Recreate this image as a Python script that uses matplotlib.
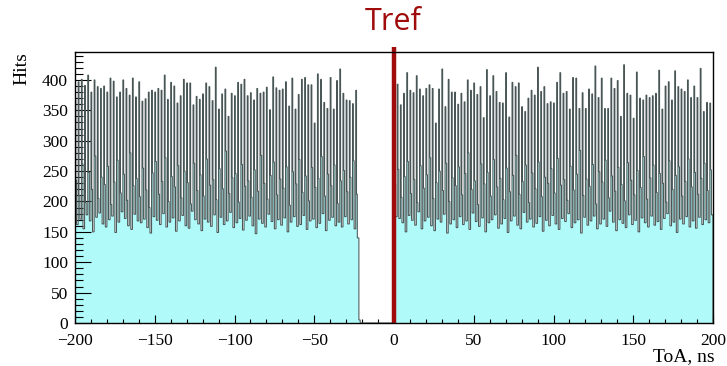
import numpy as np
import matplotlib
matplotlib.use("Agg")
import matplotlib.pyplot as plt
from matplotlib.ticker import MultipleLocator

# ---- data ----
# per 2 ns period: peak bin, shoulder bin, trough bin
left_start, left_end = -200.0, -22.0
right_start, right_end = 0.0, 200.0

left_peaks = [367, 397, 401, 391, 408, 380, 400, 389, 386, 390, 380, 403, 398, 372, 380, 400,
              386, 375, 403, 372, 397, 365, 369, 380, 383, 380, 386,
              383, 408, 368, 396, 390, 362, 374, 401, 395, 395, 359, 373, 368, 377, 395, 389,
              366, 421, 352, 377, 385, 340, 378, 374, 396, 393, 401, 374, 379, 367, 386,
              378, 380, 388, 351, 405, 387, 383, 385, 397, 357, 403, 352, 376, 401, 404, 392,
              392, 329, 410, 401, 363, 353, 404, 352, 399, 418, 378, 367, 366, 361, 383]
left_shoulders = [235, 210, 262, 198, 248, 220, 275, 205, 240, 228,
                  258, 195, 232, 268, 214, 245, 202, 280, 226, 238,
                  208, 255, 219, 190, 247, 266, 212, 233, 272, 200,
                  241, 224, 259, 206, 250, 231, 196, 263, 218, 244,
                  209, 270, 227, 236, 203, 254, 221, 283, 213, 239,
                  246, 199, 261, 225, 234, 207, 252, 217, 276, 230,
                  204, 243, 265, 211, 237, 222, 257, 194, 249, 229,
                  269, 215, 242, 201, 256, 223, 238, 274, 209, 245,
                  226, 260, 197, 234, 251, 216, 240, 267, 212]
left_troughs = [162, 171, 155, 178, 168, 150, 174, 181, 163, 158,
                170, 176, 149, 166, 183, 172, 160, 154, 179, 168,
                165, 171, 157, 148, 175, 169, 162, 180, 158, 166,
                173, 151, 168, 177, 160, 156, 184, 170, 163, 152,
                171, 166, 159, 178, 149, 174, 162, 168, 182, 157,
                165, 172, 153, 169, 176, 160, 147, 171, 164, 158,
                179, 167, 155, 170, 161, 173, 150, 166, 175, 159,
                162, 177, 154, 168, 171, 157, 164, 180, 152, 169,
                174, 160, 166, 158, 175, 163, 170, 155, 140]

right_peaks = [356, 393, 359, 378, 412, 383, 379, 407, 385, 374, 386, 392, 386, 329, 385, 418,
               356, 401, 380, 380, 360, 378, 364, 400, 383, 395, 376, 389, 338, 417, 374, 407, 381,
               363, 362, 412, 339, 396, 389, 395, 356, 348, 370, 383, 375, 421, 381, 389, 361,
               364, 362, 396, 412, 378, 381, 352, 404, 403, 353, 379, 353, 385, 377, 423, 371,
               403, 353,
               353, 403, 386, 399, 340, 425, 378, 375, 337, 413, 370, 367, 375, 371, 374, 378,
               416, 352, 390, 397, 367, 415, 389, 385, 381, 400, 371, 390, 371, 419, 348, 363, 362]
right_shoulders = [228, 253, 207, 241, 266, 213, 236, 198, 259, 222,
                   244, 272, 205, 231, 250, 218, 263, 200, 239, 226,
                   257, 211, 246, 280, 220, 234, 195, 262, 229, 248,
                   209, 269, 224, 238, 203, 255, 216, 243, 276, 212,
                   233, 260, 198, 247, 221, 265, 208, 240, 230, 254,
                   214, 271, 227, 236, 202, 258, 219, 245, 284, 210,
                   237, 225, 261, 196, 249, 232, 268, 206, 242, 217,
                   256, 228, 201, 264, 235, 211, 251, 223, 274, 204,
                   239, 260, 215, 246, 230, 199, 267, 220, 243, 257,
                   209, 233, 270, 224, 248, 212, 238, 263, 218, 252]
right_troughs = [175, 172, 165, 150, 177, 169, 161, 183, 155, 168,
                 174, 160, 152, 171, 166, 179, 148, 163, 170, 157,
                 175, 162, 168, 154, 181, 167, 159, 173, 150, 165,
                 170, 178, 156, 163, 172, 149, 168, 176, 161, 155,
                 182, 166, 171, 158, 164, 175, 151, 169, 160, 177,
                 163, 154, 172, 167, 180, 157, 165, 170, 148, 174,
                 161, 168, 176, 155, 163, 171, 159, 184, 166, 152,
                 170, 164, 157, 178, 162, 169, 150, 173, 165, 158,
                 176, 161, 167, 154, 172, 180, 160, 166, 149, 171,
                 163, 175, 158, 168, 156, 174, 162, 170, 165, 178]

gap_bump = 5      # few hits right after the left block
tref_x = 0.0

x_ticks = [-200, -150, -100, -50, 0, 50, 100, 150, 200]
y_ticks = [0, 50, 100, 150, 200, 250, 300, 350, 400]


def segment(start, end, peaks, shoulders, troughs):
    n = len(peaks)
    period = (end - start) / n
    edges, vals = [], []
    for k in range(n):
        s = start + k * period
        edges += [s, s + 0.25 * period, s + 0.5 * period]
        vals += [peaks[k], shoulders[k], troughs[k]]
    return edges, vals


le, lv = segment(left_start, left_end, left_peaks, left_shoulders, left_troughs)
re_, rv = segment(right_start, right_end, right_peaks, right_shoulders, right_troughs)
edges = le + [left_end, left_end + 0.8] + re_ + [right_end]
vals = lv + [gap_bump, 0] + rv
edges = np.array(edges)
vals = np.array(vals, dtype=float)

fig = plt.figure(figsize=(7.27, 3.66), dpi=100)
ax = fig.add_axes([75 / 727, 1 - 323 / 366, (713 - 75) / 727, (323 - 52) / 366])

ax.stairs(vals, edges, fill=True, color="#b0fafa", linewidth=0, zorder=1)
ax.stairs(vals, edges, fill=False, color="#4a5656", linewidth=0.75, zorder=2)

ax.set_xlim(-200, 200)
ax.set_ylim(0, 446)

ax.plot([tref_x, tref_x], [0, 455], color="#a00c0c", linewidth=3.2,
        solid_capstyle="butt", clip_on=False, zorder=5)
fig.text(393 / 727, 1 - 22 / 366, "Tref", color="#a00c0c", fontsize=22,
         family="Open Sans", ha="center", va="center")

serif = "Liberation Serif"
ax.set_xticks(x_ticks)
ax.set_yticks(y_ticks)
ax.set_xticklabels([("\u2212%d" % -t) if t < 0 else "%d" % t for t in x_ticks],
                   family=serif, fontsize=12.5)
ax.set_yticklabels([str(t) for t in y_ticks], family=serif, fontsize=12.5)
ax.xaxis.set_minor_locator(MultipleLocator(10))
ax.yaxis.set_minor_locator(MultipleLocator(10))
ax.tick_params(axis="x", which="major", direction="in", length=6, width=0.8, pad=7.5)
ax.tick_params(axis="x", which="minor", direction="in", length=3, width=0.8)
ax.tick_params(axis="y", which="major", direction="in", length=11.5, width=0.8, pad=5)
ax.tick_params(axis="y", which="minor", direction="in", length=5.8, width=0.8)
for sp in ax.spines.values():
    sp.set_linewidth(1.0)
    sp.set_zorder(6)

fig.text(22 / 727, 1 - 52 / 366, "Hits", rotation=90, family=serif, fontsize=14,
         ha="center", va="top")
fig.text(715 / 727, 1 - 361 / 366, "ToA, ns", family=serif, fontsize=14,
         ha="right", va="baseline")

fig.savefig("out.png", dpi=100)
